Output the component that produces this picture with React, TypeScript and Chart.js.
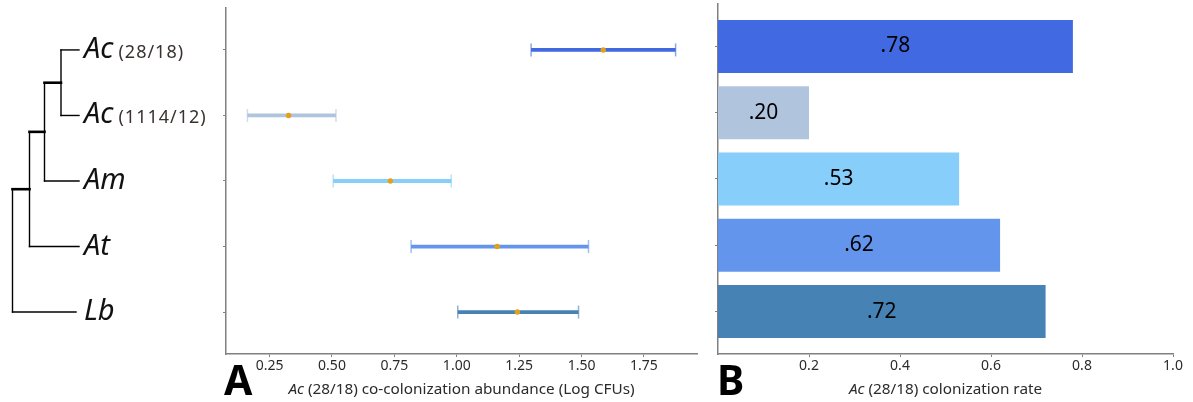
import React, { useEffect, useRef } from "react";
import { Chart, registerables } from "chart.js";

Chart.register(...registerables);

// ---- data ----
const genusLabels = ["Ac", "Ac", "Am", "At", "Lb"];
const strainLabels = ["(28/18)", "(1114/12)", "", "", ""];
const seriesColors = ["#4169E1", "#B0C4DE", "#87CEFA", "#6495ED", "#4682B4"];
const abundanceMean = [1.587, 0.326, 0.734, 1.162, 1.243];
const abundanceLow = [1.298, 0.161, 0.505, 0.817, 1.004];
const abundanceHigh = [1.877, 0.516, 0.978, 1.528, 1.488];
const colonizationRate = [0.78, 0.2, 0.53, 0.62, 0.72];
const abundanceTicks = [0.25, 0.5, 0.75, 1.0, 1.25, 1.5, 1.75];
const rateTicks = [0.2, 0.4, 0.6, 0.8, 1.0];

const FONT = "'Noto Sans', 'Open Sans', sans-serif";
const AXIS = "#808080";
const TXT = "#2b2b2b";
const MEAN_COLOR = "#E3A119";

function withAlpha(hex: string, a: number) {
  const n = parseInt(hex.slice(1), 16);
  return `rgba(${(n >> 16) & 255},${(n >> 8) & 255},${n & 255},${a})`;
}

// matplotlib-like limits: categories as bars of height 0.8 + 5% margins
const nCat = genusLabels.length;
const catLo = -0.4;
const catHi = nCat - 1 + 0.4;
const catPad = 0.05 * (catHi - catLo);
const yMin = catLo - catPad;
const yMax = catHi + catPad;

const aLo = Math.min(...abundanceLow);
const aHi = Math.max(...abundanceHigh);
const aPad = 0.05 * (aHi - aLo);

function drawMixedTitle(ctx: CanvasRenderingContext2D, cx: number, cy: number, italicPart: string, rest: string) {
  ctx.save();
  ctx.textBaseline = "middle";
  ctx.fillStyle = TXT;
  const size = 15.3;
  ctx.font = `italic ${size}px ${FONT}`;
  const w1 = ctx.measureText(italicPart).width;
  ctx.font = `${size}px ${FONT}`;
  const w2 = ctx.measureText(rest).width;
  const x0 = cx - (w1 + w2) / 2;
  ctx.font = `italic ${size}px ${FONT}`;
  ctx.textAlign = "left";
  ctx.fillText(italicPart, x0, cy);
  ctx.font = `${size}px ${FONT}`;
  ctx.fillText(rest, x0 + w1, cy);
  ctx.restore();
}

const treePlugin = {
  id: "treeAndLabels",
  afterDraw(chart: any) {
    const ctx: CanvasRenderingContext2D = chart.ctx;
    const ys = genusLabels.map((_, i) => chart.scales.y.getPixelForValue(i));
    ctx.save();
    ctx.strokeStyle = "#000";
    ctx.lineCap = "square";
    const seg = (x1: number, y1: number, x2: number, y2: number, w: number) => {
      ctx.lineWidth = w;
      ctx.beginPath();
      ctx.moveTo(x1, y1);
      ctx.lineTo(x2, y2);
      ctx.stroke();
    };
    const thin = 1.4;
    const thick = 2.6;
    const leafEnd = 79;
    // clade (Ac28, Ac1114)
    seg(61, ys[0], leafEnd, ys[0], thin);
    seg(61, ys[1], leafEnd, ys[1], thin);
    seg(61, ys[0], 61, ys[1], thin);
    const n1 = (ys[0] + ys[1]) / 2;
    seg(44.5, n1, 61, n1, thick);
    // + Am
    seg(44.5, ys[2], leafEnd, ys[2], thin);
    seg(44.5, n1, 44.5, ys[2], thin);
    const n2 = (n1 + ys[2]) / 2;
    seg(29.5, n2, 44.5, n2, thick);
    // + At
    seg(29.5, ys[3], leafEnd, ys[3], thin);
    seg(29.5, n2, 29.5, ys[3], thin);
    const n3 = (n2 + ys[3]) / 2;
    seg(12.5, n3, 29.5, n3, thick);
    // + Lb
    seg(12.5, ys[4], 76, ys[4], thin);
    seg(12.5, n3, 12.5, ys[4], thin);

    // leaf labels
    ctx.textAlign = "left";
    ctx.textBaseline = "alphabetic";
    genusLabels.forEach((g, i) => {
      const y = ys[i] + 8;
      ctx.fillStyle = "#111";
      ctx.font = `italic 29px ${FONT}`;
      ctx.fillText(g, 84, y);
      const w = ctx.measureText(g).width;
      if (strainLabels[i]) {
        ctx.fillStyle = "#3a3230";
        ctx.font = `18px ${FONT}`;
        (ctx as any).letterSpacing = "1px";
        ctx.fillText(strainLabels[i], 84 + w + 5, y);
        (ctx as any).letterSpacing = "0px";
      }
    });

    // panel letter
    ctx.fillStyle = "#000";
    ctx.font = `bold 41px ${FONT}`;
    ctx.fillText("A", 224, 395);
    ctx.restore();

    const ca = chart.chartArea;
    drawMixedTitle(ctx, (ca.left + ca.right) / 2, 390, "Ac", " (28/18) co-colonization abundance (Log CFUs)");
  },
};

const barLabelPlugin = {
  id: "barLabels",
  afterDatasetsDraw(chart: any) {
    const ctx: CanvasRenderingContext2D = chart.ctx;
    const meta = chart.getDatasetMeta(0);
    ctx.save();
    ctx.fillStyle = "#000";
    ctx.font = `21px ${FONT}`;
    ctx.textAlign = "center";
    ctx.textBaseline = "middle";
    meta.data.forEach((bar: any, i: number) => {
      const p = bar.getProps(["x", "y", "base"], true);
      const label = colonizationRate[i].toFixed(2).replace(/^0/, "");
      ctx.fillText(label, (p.x + p.base) / 2, p.y);
    });
    ctx.restore();
  },
  afterDraw(chart: any) {
    const ctx: CanvasRenderingContext2D = chart.ctx;
    ctx.save();
    ctx.fillStyle = "#000";
    ctx.font = `bold 41px ${FONT}`;
    ctx.textAlign = "left";
    ctx.textBaseline = "alphabetic";
    ctx.fillText("B", 12, 395);
    ctx.restore();
    const ca = chart.chartArea;
    drawMixedTitle(ctx, (ca.left + ca.right) / 2, 390, "Ac", " (28/18) colonization rate");
  },
};

const tickFont = { family: FONT, size: 14 };

function PanelA() {
  const ref = useRef<HTMLCanvasElement>(null);
  useEffect(() => {
    if (!ref.current) return;
    const datasets: any[] = [
      {
        label: "mean",
        data: abundanceMean.map((v, i) => ({ x: v, y: i })),
        showLine: false,
        pointRadius: 2.7,
        pointBackgroundColor: MEAN_COLOR,
        pointBorderWidth: 0,
      },
      ...genusLabels.map((g, i) => ({
        label: `${g} ${strainLabels[i]}`,
        data: [
          { x: abundanceLow[i], y: i },
          { x: abundanceHigh[i], y: i },
        ],
        showLine: true,
        borderColor: seriesColors[i],
        borderWidth: 3.8,
        pointStyle: "line",
        pointRotation: 90,
        pointRadius: 6.5,
        pointBorderColor: withAlpha(seriesColors[i], 0.6),
        pointBorderWidth: 1.5,
        pointBackgroundColor: "transparent",
      })),
    ];
    const chart = new Chart(ref.current, {
      type: "scatter",
      data: { datasets },
      options: {
        animation: false,
        responsive: false,
        events: [],
        layout: { padding: { left: 0, right: 8, top: 4, bottom: 0 } },
        plugins: { legend: { display: false }, tooltip: { enabled: false } },
        scales: {
          x: {
            type: "linear",
            min: aLo - aPad,
            max: aHi + aPad,
            offset: false,
            afterBuildTicks: (s: any) => {
              s.ticks = abundanceTicks.map((v) => ({ value: v }));
            },
            afterFit: (s: any) => {
              s.height = 48;
            },
            ticks: {
              callback: (v: any) => Number(v).toFixed(2),
              font: tickFont,
              color: TXT,
              padding: 1,
              maxRotation: 0,
              autoSkip: false,
            },
            grid: { drawOnChartArea: false, offset: false, tickLength: 3, color: AXIS, lineWidth: 1 },
            border: { display: true, color: AXIS, width: 1.5 },
          },
          y: {
            type: "linear",
            min: yMin,
            max: yMax,
            reverse: true,
            offset: false,
            afterBuildTicks: (s: any) => {
              s.ticks = genusLabels.map((_, i) => ({ value: i }));
            },
            afterFit: (s: any) => {
              s.width = 226;
            },
            ticks: { display: false },
            grid: { drawOnChartArea: false, offset: false, tickLength: 3, color: AXIS, lineWidth: 1 },
            border: { display: true, color: AXIS, width: 1.5 },
          },
        },
      } as any,
      plugins: [treePlugin],
    });
    return () => chart.destroy();
  }, []);
  return (
    <canvas
      ref={ref}
      width={705}
      height={402}
      style={{ position: "absolute", left: 0, top: 0, width: 705, height: 402 }}
    />
  );
}

function PanelB() {
  const ref = useRef<HTMLCanvasElement>(null);
  useEffect(() => {
    if (!ref.current) return;
    const chart = new Chart(ref.current, {
      type: "bar",
      data: {
        datasets: [
          {
            label: "colonization rate",
            data: colonizationRate.map((v, i) => ({ x: v, y: i })),
            backgroundColor: seriesColors,
            borderWidth: 0,
            barPercentage: 1,
            categoryPercentage: 0.8,
          },
        ],
      },
      options: {
        indexAxis: "y",
        animation: false,
        responsive: false,
        events: [],
        layout: { padding: { left: 0, right: 20, top: 4, bottom: 0 } },
        plugins: { legend: { display: false }, tooltip: { enabled: false } },
        scales: {
          x: {
            type: "linear",
            min: 0,
            max: 1,
            offset: false,
            afterBuildTicks: (s: any) => {
              s.ticks = rateTicks.map((v) => ({ value: v }));
            },
            afterFit: (s: any) => {
              s.height = 48;
            },
            ticks: {
              callback: (v: any) => Number(v).toFixed(1),
              font: tickFont,
              color: TXT,
              padding: 1,
              maxRotation: 0,
              autoSkip: false,
            },
            grid: { drawOnChartArea: false, offset: false, tickLength: 3, color: AXIS, lineWidth: 1 },
            border: { display: true, color: AXIS, width: 1.5 },
          },
          y: {
            type: "linear",
            min: yMin,
            max: yMax,
            reverse: true,
            offset: false,
            afterBuildTicks: (s: any) => {
              s.ticks = genusLabels.map((_, i) => ({ value: i }));
            },
            afterFit: (s: any) => {
              s.width = 13;
            },
            ticks: { display: false },
            grid: { drawOnChartArea: false, offset: false, tickLength: 3, color: AXIS, lineWidth: 1 },
            border: { display: true, color: AXIS, width: 1.5 },
          },
        },
      } as any,
      plugins: [barLabelPlugin],
    });
    return () => chart.destroy();
  }, []);
  return (
    <canvas
      ref={ref}
      width={488}
      height={402}
      style={{ position: "absolute", left: 705, top: 0, width: 488, height: 402 }}
    />
  );
}

export default function App() {
  return (
    <div style={{ position: "absolute", left: 0, top: 0, width: 1193, height: 402, background: "#fff" }}>
      <PanelA />
      <PanelB />
    </div>
  );
}
